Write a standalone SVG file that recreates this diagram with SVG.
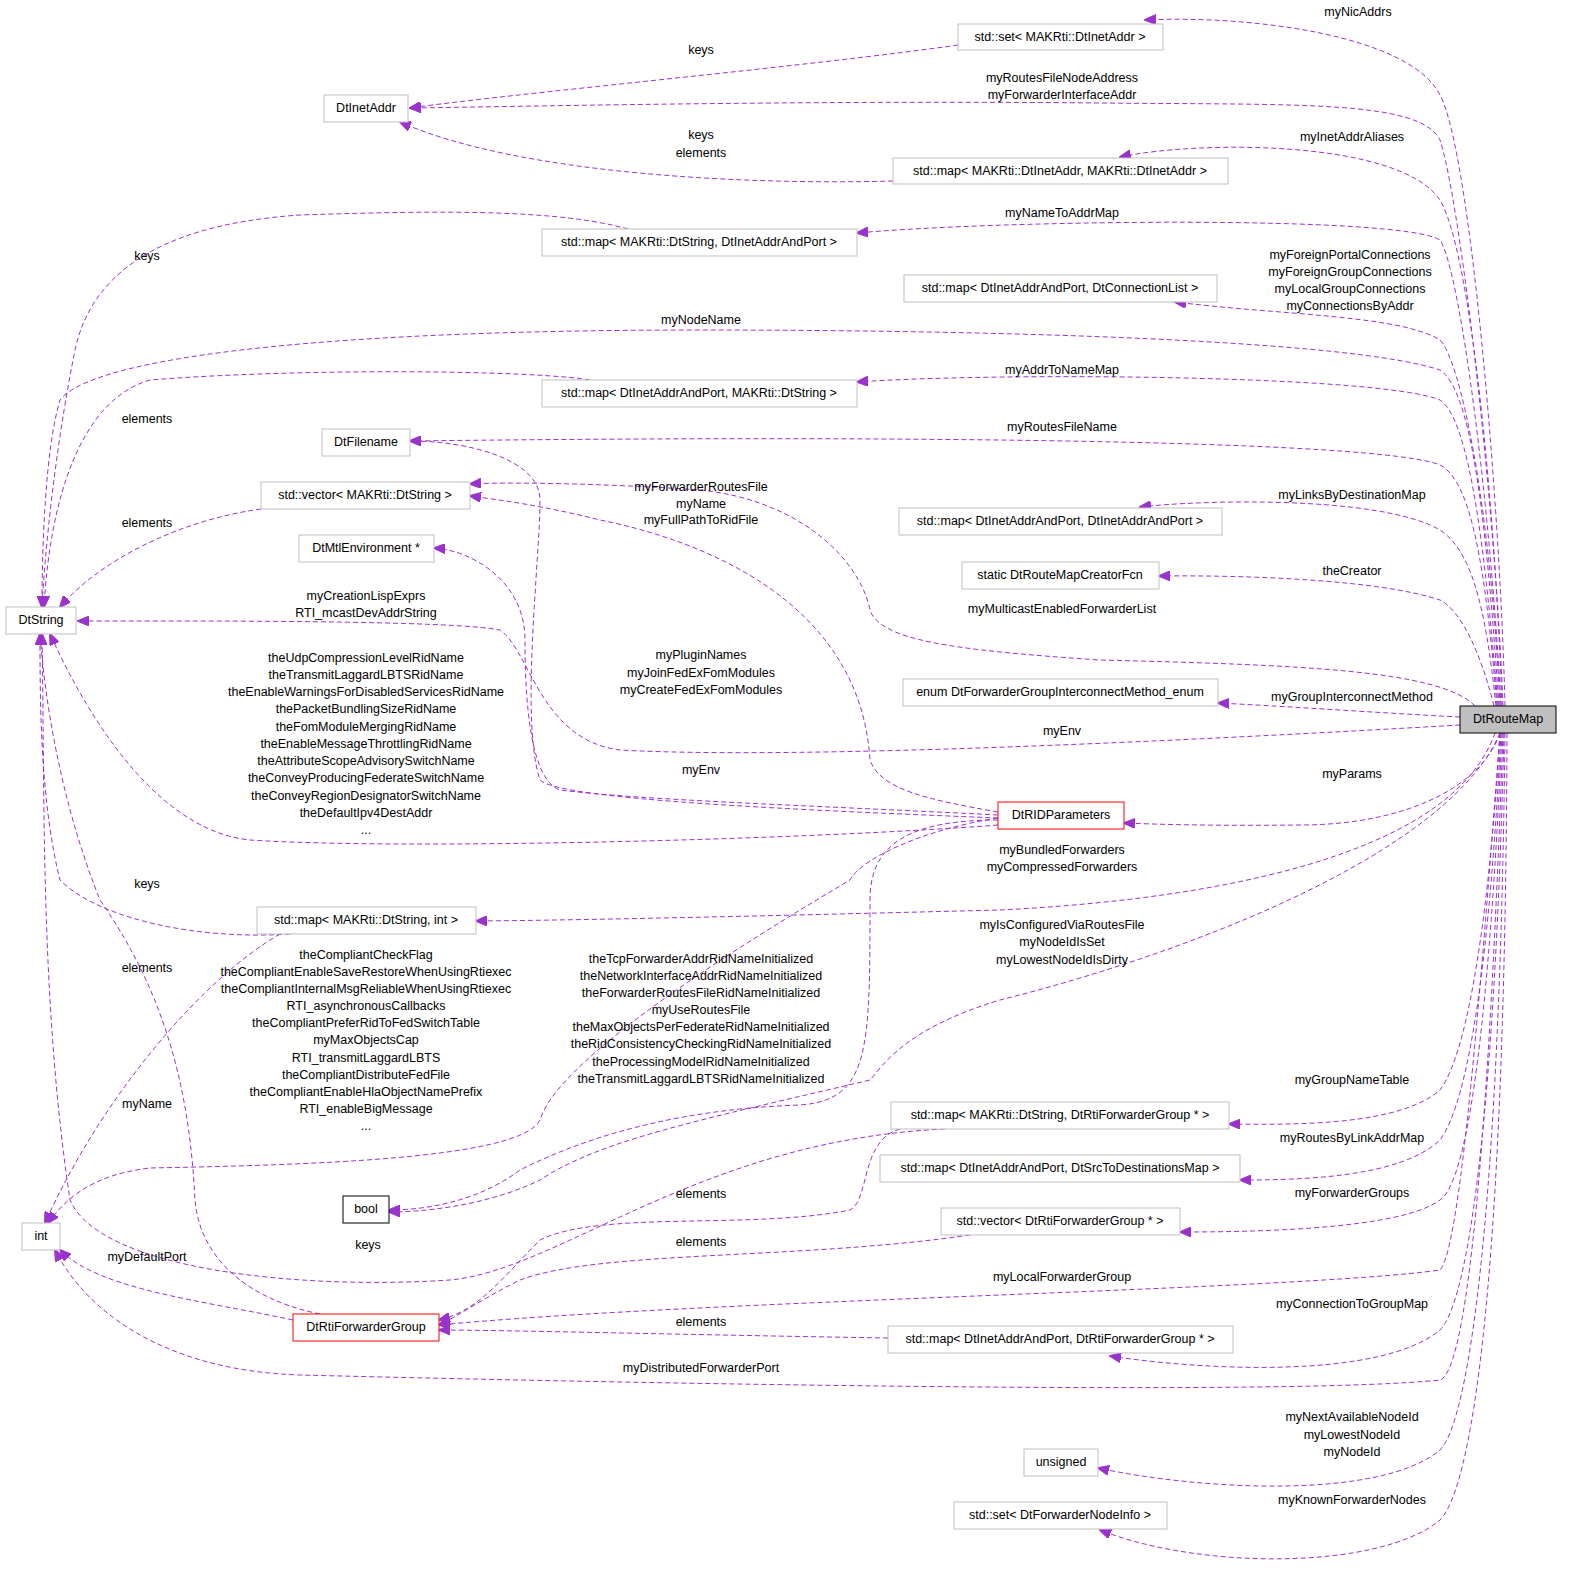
<svg xmlns="http://www.w3.org/2000/svg" width="1573" height="1580" viewBox="0 0 1573 1580">
<style>
text{font-family:"Liberation Sans",Arial,sans-serif;font-size:12.5px;text-anchor:middle;dominant-baseline:central;fill:#000}
.n rect{fill:#fff;stroke:#bfbfbf;stroke-width:1}
.n.r rect{stroke:#ff0000}
.n.b rect{stroke:#000}
.e path{fill:none;stroke:#9a32cd;stroke-width:1;stroke-dasharray:5,3;marker-end:url(#a)}
</style>
<defs><marker id="a" markerWidth="12" markerHeight="10" refX="11" refY="5" orient="auto" markerUnits="userSpaceOnUse"><path d="M0,0 L12,5 L0,10 z" fill="#9a32cd" stroke="#9a32cd"/></marker></defs>
<rect width="1573" height="1580" fill="#fff"/>
<g class="e">
<path d="M958,45 C820,65 500,95 410,108"/>
<path d="M1505,706 C1500,500 1470,150 1440,95 C1410,35 1250,15 1145,20"/>
<path d="M1503,706 C1495,500 1460,200 1440,140 C1420,100 1300,105 1100,103 C800,100 500,107 410,108"/>
<path d="M893,181 C750,185 520,175 400,122"/>
<path d="M1502,706 C1495,500 1470,250 1440,200 C1400,140 1200,140 1120,157"/>
<path d="M628,229 C560,210 450,210 300,215 C150,225 90,280 75,350 C55,450 45,550 42,607"/>
<path d="M1501,706 C1490,500 1460,270 1440,240 C1400,215 1000,220 857,233"/>
<path d="M1500,706 C1490,500 1460,360 1440,340 C1400,315 1280,315 1175,302"/>
<path d="M1499,706 C1485,500 1470,390 1440,370 C1350,340 1000,330 700,330 C300,330 90,360 60,400 C45,450 42,550 42,607"/>
<path d="M590,380 C530,370 300,368 150,380 C80,400 50,500 44,607"/>
<path d="M1498,706 C1485,550 1470,420 1440,400 C1380,375 1000,372 857,382"/>
<path d="M1497,706 C1485,560 1470,480 1440,465 C1380,440 900,435 410,441"/>
<path d="M261,509 C180,520 100,560 60,607"/>
<path d="M1496,706 C1485,600 1470,550 1440,530 C1380,495 1200,500 1140,507"/>
<path d="M1494,706 C1480,650 1460,610 1440,600 C1380,580 1250,575 1159,576"/>
<path d="M1475,706 C1440,670 1300,665 1100,660 C950,650 880,640 870,610 C860,560 800,500 700,490 C600,483 500,482 470,484"/>
<path d="M1460,717 C1380,713 1300,707 1218,703"/>
<path d="M1460,725 C1200,740 800,760 620,750 C540,740 530,650 500,630 C450,620 200,621 78,621"/>
<path d="M1500,733 C1480,790 1400,825 1300,825 C1200,826 1150,824 1124,823"/>
<path d="M998,818 C800,810 560,800 540,780 C520,720 540,560 540,500 C540,460 470,441 410,441"/>
<path d="M998,812 C930,800 880,790 870,760 C860,600 700,540 600,520 C540,505 500,500 470,496"/>
<path d="M998,815 C800,805 640,800 560,790 C530,780 525,700 525,640 C525,580 470,550 434,548"/>
<path d="M998,825 C800,840 400,850 250,840 C150,830 80,700 50,634"/>
<path d="M998,818 C920,830 860,860 850,880 C800,910 560,1050 540,1120 C520,1160 300,1165 150,1168 C90,1175 65,1200 48,1223"/>
<path d="M998,820 C900,820 870,850 870,900 C870,1050 870,1100 800,1105 C650,1110 560,1150 520,1170 C480,1200 430,1210 389,1210"/>
<path d="M1500,733 C1450,850 1200,950 1000,1000 C900,1030 880,1070 870,1080 C700,1120 600,1140 540,1180 C500,1200 440,1212 389,1212"/>
<path d="M1495,733 C1450,860 1200,900 1000,910 C800,915 600,920 476,921"/>
<path d="M290,934 C200,940 100,920 60,880 C40,800 40,700 40,634"/>
<path d="M280,934 C200,980 100,1100 45,1223"/>
<path d="M320,1314 C250,1300 200,1260 195,1200 C190,1100 170,1000 100,900 C60,800 45,700 40,634"/>
<path d="M293,1320 C200,1300 100,1290 60,1250"/>
<path d="M945,1129 C700,1140 560,1270 450,1280 C300,1290 100,1270 70,1200 C40,1000 45,800 42,634"/>
<path d="M900,1129 C860,1140 870,1200 850,1210 C750,1230 600,1210 540,1240 C500,1280 480,1310 439,1320"/>
<path d="M970,1235 C800,1260 600,1250 520,1280 C480,1300 460,1315 439,1325"/>
<path d="M1500,733 C1480,1000 1460,1250 1440,1270 C1300,1290 700,1300 439,1325"/>
<path d="M888,1338 C700,1335 500,1330 439,1330"/>
<path d="M1503,733 C1490,1100 1470,1370 1440,1380 C1300,1395 700,1385 300,1375 C150,1370 80,1300 55,1250"/>
<path d="M1500,733 C1490,900 1470,1050 1440,1090 C1400,1125 1300,1125 1229,1124"/>
<path d="M1501,733 C1490,950 1470,1100 1440,1140 C1400,1178 1300,1180 1240,1180"/>
<path d="M1502,733 C1490,1000 1470,1180 1440,1200 C1400,1230 1250,1232 1180,1232"/>
<path d="M1504,733 C1495,1100 1470,1300 1440,1330 C1380,1380 1200,1370 1110,1356"/>
<path d="M1505,733 C1500,1200 1470,1420 1440,1450 C1380,1500 1200,1490 1098,1468"/>
<path d="M1507,733 C1505,1300 1470,1490 1440,1520 C1380,1570 1200,1570 1100,1530"/>
</g>
<g id="labels">
<text x="701" y="50">keys</text><text x="1358" y="12">myNicAddrs</text>
<text x="1062" y="78">myRoutesFileNodeAddress</text><text x="1062" y="95">myForwarderInterfaceAddr</text>
<text x="701" y="135">keys</text><text x="701" y="153">elements</text><text x="1352" y="137">myInetAddrAliases</text>
<text x="147" y="256">keys</text><text x="1062" y="213">myNameToAddrMap</text>
<text x="1350" y="255">myForeignPortalConnections</text><text x="1350" y="272">myForeignGroupConnections</text><text x="1350" y="289">myLocalGroupConnections</text><text x="1350" y="306">myConnectionsByAddr</text>
<text x="701" y="320">myNodeName</text><text x="147" y="419">elements</text><text x="1062" y="370">myAddrToNameMap</text><text x="1062" y="427">myRoutesFileName</text>
<text x="701" y="487">myForwarderRoutesFile</text><text x="701" y="504">myName</text><text x="701" y="520">myFullPathToRidFile</text>
<text x="147" y="523">elements</text><text x="1352" y="495">myLinksByDestinationMap</text><text x="1352" y="571">theCreator</text>
<text x="366" y="596">myCreationLispExprs</text><text x="366" y="613">RTI_mcastDevAddrString</text>
<text x="1062" y="609">myMulticastEnabledForwarderList</text>
<text x="701" y="655">myPluginNames</text><text x="701" y="673">myJoinFedExFomModules</text><text x="701" y="690">myCreateFedExFomModules</text>
<text x="366" y="658">theUdpCompressionLevelRidName</text><text x="366" y="675">theTransmitLaggardLBTSRidName</text><text x="366" y="692">theEnableWarningsForDisabledServicesRidName</text><text x="366" y="709">thePacketBundlingSizeRidName</text><text x="366" y="727">theFomModuleMergingRidName</text><text x="366" y="744">theEnableMessageThrottlingRidName</text><text x="366" y="761">theAttributeScopeAdvisorySwitchName</text><text x="366" y="778">theConveyProducingFederateSwitchName</text><text x="366" y="796">theConveyRegionDesignatorSwitchName</text><text x="366" y="813">theDefaultIpv4DestAddr</text><text x="366" y="830">...</text>
<text x="1352" y="697">myGroupInterconnectMethod</text><text x="1062" y="731">myEnv</text><text x="701" y="770">myEnv</text><text x="1352" y="774">myParams</text>
<text x="1062" y="850">myBundledForwarders</text><text x="1062" y="867">myCompressedForwarders</text><text x="147" y="884">keys</text>
<text x="1062" y="925">myIsConfiguredViaRoutesFile</text><text x="1062" y="942">myNodeIdIsSet</text><text x="1062" y="960">myLowestNodeIdIsDirty</text>
<text x="366" y="955">theCompliantCheckFlag</text><text x="366" y="972">theCompliantEnableSaveRestoreWhenUsingRtiexec</text><text x="366" y="989">theCompliantInternalMsgReliableWhenUsingRtiexec</text><text x="366" y="1006">RTI_asynchronousCallbacks</text><text x="366" y="1023">theCompliantPreferRidToFedSwitchTable</text><text x="366" y="1040">myMaxObjectsCap</text><text x="366" y="1058">RTI_transmitLaggardLBTS</text><text x="366" y="1075">theCompliantDistributeFedFile</text><text x="366" y="1092">theCompliantEnableHlaObjectNamePrefix</text><text x="366" y="1109">RTI_enableBigMessage</text><text x="366" y="1126">...</text>
<text x="147" y="968">elements</text>
<text x="701" y="959">theTcpForwarderAddrRidNameInitialized</text><text x="701" y="976">theNetworkInterfaceAddrRidNameInitialized</text><text x="701" y="993">theForwarderRoutesFileRidNameInitialized</text><text x="701" y="1010">myUseRoutesFile</text><text x="701" y="1027">theMaxObjectsPerFederateRidNameInitialized</text><text x="701" y="1044">theRidConsistencyCheckingRidNameInitialized</text><text x="701" y="1062">theProcessingModelRidNameInitialized</text><text x="701" y="1079">theTransmitLaggardLBTSRidNameInitialized</text>
<text x="1352" y="1080">myGroupNameTable</text><text x="147" y="1104">myName</text><text x="1352" y="1138">myRoutesByLinkAddrMap</text>
<text x="701" y="1194">elements</text><text x="1352" y="1193">myForwarderGroups</text><text x="701" y="1242">elements</text><text x="368" y="1245">keys</text>
<text x="147" y="1257">myDefaultPort</text><text x="1062" y="1277">myLocalForwarderGroup</text><text x="1352" y="1304">myConnectionToGroupMap</text>
<text x="701" y="1322">elements</text><text x="701" y="1368">myDistributedForwarderPort</text>
<text x="1352" y="1417">myNextAvailableNodeId</text><text x="1352" y="1435">myLowestNodeId</text><text x="1352" y="1452">myNodeId</text><text x="1352" y="1500">myKnownForwarderNodes</text>
</g>
<g id="n1" class="n"><rect x="958" y="24" width="205" height="26"/><text x="1060" y="37">std::set&lt; MAKRti::DtInetAddr &gt;</text></g>
<g id="n2" class="n"><rect x="324" y="95" width="84" height="27"/><text x="366" y="108">DtInetAddr</text></g>
<g id="n3" class="n"><rect x="893" y="158" width="335" height="26"/><text x="1060" y="171">std::map&lt; MAKRti::DtInetAddr, MAKRti::DtInetAddr &gt;</text></g>
<g id="n4" class="n"><rect x="542" y="229" width="315" height="27"/><text x="699" y="242">std::map&lt; MAKRti::DtString, DtInetAddrAndPort &gt;</text></g>
<g id="n5" class="n"><rect x="904" y="275" width="313" height="27"/><text x="1060" y="288">std::map&lt; DtInetAddrAndPort, DtConnectionList &gt;</text></g>
<g id="n6" class="n"><rect x="542" y="380" width="315" height="27"/><text x="699" y="393">std::map&lt; DtInetAddrAndPort, MAKRti::DtString &gt;</text></g>
<g id="n7" class="n"><rect x="322" y="429" width="88" height="27"/><text x="366" y="442">DtFilename</text></g>
<g id="n8" class="n"><rect x="261" y="482" width="209" height="27"/><text x="365" y="495">std::vector&lt; MAKRti::DtString &gt;</text></g>
<g id="n9" class="n"><rect x="899" y="508" width="323" height="27"/><text x="1060" y="521">std::map&lt; DtInetAddrAndPort, DtInetAddrAndPort &gt;</text></g>
<g id="n10" class="n"><rect x="299" y="535" width="135" height="27"/><text x="366" y="548">DtMtlEnvironment *</text></g>
<g id="n11" class="n"><rect x="962" y="562" width="197" height="27"/><text x="1060" y="575">static DtRouteMapCreatorFcn</text></g>
<g id="n12" class="n"><rect x="6" y="607" width="70" height="27"/><text x="41" y="620">DtString</text></g>
<g id="n13" class="n"><rect x="903" y="679" width="315" height="27"/><text x="1060" y="692">enum DtForwarderGroupInterconnectMethod_enum</text></g>
<g id="n14" class="n b"><rect x="1460" y="706" width="96" height="27" style="fill:#bfbfbf"/><text x="1508" y="719">DtRouteMap</text></g>
<g id="n15" class="n r"><rect x="998" y="802" width="126" height="27"/><text x="1061" y="815">DtRIDParameters</text></g>
<g id="n16" class="n"><rect x="257" y="907" width="219" height="27"/><text x="366" y="920">std::map&lt; MAKRti::DtString, int &gt;</text></g>
<g id="n17" class="n"><rect x="891" y="1102" width="338" height="27"/><text x="1060" y="1115">std::map&lt; MAKRti::DtString, DtRtiForwarderGroup * &gt;</text></g>
<g id="n18" class="n"><rect x="880" y="1155" width="360" height="27"/><text x="1060" y="1168">std::map&lt; DtInetAddrAndPort, DtSrcToDestinationsMap &gt;</text></g>
<g id="n19" class="n b"><rect x="343" y="1196" width="46" height="27"/><text x="366" y="1209">bool</text></g>
<g id="n20" class="n"><rect x="941" y="1208" width="239" height="27"/><text x="1060" y="1221">std::vector&lt; DtRtiForwarderGroup * &gt;</text></g>
<g id="n21" class="n"><rect x="22" y="1223" width="38" height="27"/><text x="41" y="1236">int</text></g>
<g id="n22" class="n r"><rect x="293" y="1314" width="146" height="27"/><text x="366" y="1327">DtRtiForwarderGroup</text></g>
<g id="n23" class="n"><rect x="888" y="1326" width="345" height="27"/><text x="1060" y="1339">std::map&lt; DtInetAddrAndPort, DtRtiForwarderGroup * &gt;</text></g>
<g id="n24" class="n"><rect x="1024" y="1449" width="74" height="27"/><text x="1061" y="1462">unsigned</text></g>
<g id="n25" class="n"><rect x="954" y="1502" width="213" height="27"/><text x="1060" y="1515">std::set&lt; DtForwarderNodeInfo &gt;</text></g>
</svg>
